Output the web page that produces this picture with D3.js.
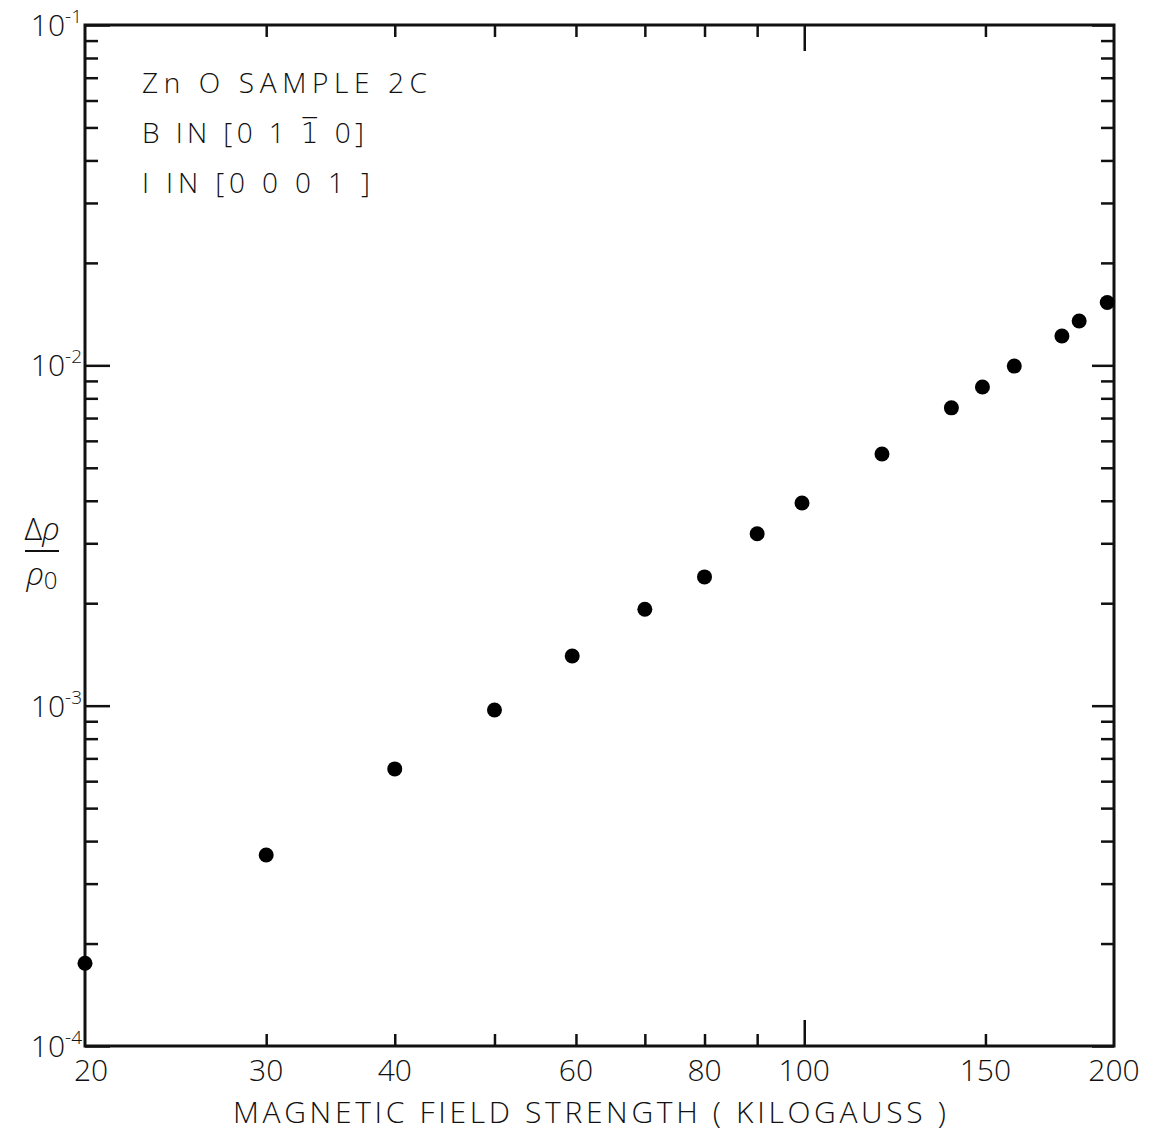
<!DOCTYPE html>
<html>
<head>
<meta charset="utf-8">
<script src="https://cdn.jsdelivr.net/npm/d3@7"></script>
<style>
  html, body { margin: 0; padding: 0; background: #fff; }
  svg text { font-family: "Open Sans", "DejaVu Sans", sans-serif; font-weight: 300; fill: #111; }
</style>
</head>
<body>
<div id="chart"></div>
<script>
// field strength (kilogauss) and magnetoresistance
const fieldKG = [20, 30, 40, 50, 59.5, 70, 80, 90, 99.5, 119, 139, 149, 160, 178, 185, 197];
const deltaRho = [1.75e-4, 3.64e-4, 6.52e-4, 9.71e-4, 1.40e-3, 1.92e-3, 2.39e-3, 3.20e-3,
                  3.94e-3, 5.49e-3, 7.50e-3, 8.64e-3, 9.95e-3, 1.22e-2, 1.35e-2, 1.53e-2];

const xTickLabels = [20, 30, 40, 60, 80, 100, 150, 200];
const xMinorTicks = [30, 40, 50, 60, 70, 80, 90, 150];
const xMajorTicks = [100];
const yDecades = [1e-4, 1e-3, 1e-2, 1e-1];
const yExponents = ["-4", "-3", "-2", "-1"];
const notes = ["Zn O  SAMPLE  2C", "B  IN  [0 1 1\u0305 0]", "I  IN  [0 0 0 1 ]"];

const width = 1150, height = 1132;
const margin = { top: 25, right: 36, bottom: 86, left: 85 };

const svg = d3.select("#chart").append("svg")
    .attr("width", width)
    .attr("height", height);

const x = d3.scaleLog().domain([20, 200]).range([margin.left, width - margin.right]);
const y = d3.scaleLog().domain([1e-4, 1e-1]).range([height - margin.bottom, margin.top]);

const yMinor = [];
yDecades.slice(0, -1).forEach(d => { for (let k = 2; k <= 9; k++) yMinor.push(d * k); });

const x0 = x(20), x1 = x(200), y0 = y(1e-4), y1 = y(1e-1);

// ticks (all pointing inward)
function tickGroup(axis, tx, ty) {
  const g = svg.append("g").attr("transform", `translate(${tx},${ty})`).call(axis);
  g.select(".domain").remove();
  g.selectAll(".tick line").attr("stroke", "#111").attr("stroke-width", 2.5);
  g.selectAll(".tick text").remove();
  return g;
}

tickGroup(d3.axisBottom(x).tickValues(xMinorTicks).tickSize(-12), 0, y0);
tickGroup(d3.axisBottom(x).tickValues(xMajorTicks).tickSize(-26), 0, y0);
tickGroup(d3.axisTop(x).tickValues(xMinorTicks).tickSize(-12), 0, y1);
tickGroup(d3.axisTop(x).tickValues(xMajorTicks).tickSize(-26), 0, y1);

tickGroup(d3.axisLeft(y).tickValues(yMinor).tickSize(-13), x0, 0);
tickGroup(d3.axisLeft(y).tickValues(yDecades).tickSize(-25), x0, 0);
tickGroup(d3.axisRight(y).tickValues(yMinor).tickSize(-13), x1, 0);
tickGroup(d3.axisRight(y).tickValues(yDecades).tickSize(-22), x1, 0);

// frame
svg.append("rect")
    .attr("x", x0).attr("y", y1)
    .attr("width", x1 - x0).attr("height", y0 - y1)
    .attr("fill", "none")
    .attr("stroke", "#111")
    .attr("stroke-width", 3);

// x tick labels
svg.append("g").selectAll("text")
    .data(xTickLabels)
    .join("text")
    .attr("x", d => x(d) + (d === 20 ? 6 : 0))
    .attr("y", y0 + 35)
    .attr("text-anchor", "middle")
    .attr("font-size", 30)
    .text(d => d);

// y decade labels
const yLab = svg.append("g").selectAll("text")
    .data(yDecades)
    .join("text")
    .attr("x", x0 - 3)
    .attr("y", d => y(d) + 11)
    .attr("text-anchor", "end")
    .attr("font-size", 30);
yLab.append("tspan").text("10");
yLab.append("tspan")
    .attr("font-size", 19)
    .attr("dy", -13)
    .text((d, i) => yExponents[i]);

// data points
svg.append("g").selectAll("circle")
    .data(fieldKG)
    .join("circle")
    .attr("cx", d => x(d))
    .attr("cy", (d, i) => y(deltaRho[i]))
    .attr("r", 7.5)
    .attr("fill", "#000");

// annotation
const noteWidths = [285, 222, 228];
svg.append("g").selectAll("text")
    .data(notes)
    .join("text")
    .attr("x", 142)
    .attr("y", (d, i) => 93 + i * 50)
    .attr("font-size", 28)
    .attr("textLength", (d, i) => noteWidths[i])
    .attr("lengthAdjust", "spacing")
    .text(d => d);

// x axis title
svg.append("text")
    .attr("x", 233)
    .attr("y", 1123)
    .attr("font-size", 30)
    .attr("textLength", 713)
    .attr("lengthAdjust", "spacing")
    .text("MAGNETIC  FIELD  STRENGTH ( KILOGAUSS )");

// y axis title: Δρ / ρ0
const yt = svg.append("g").attr("transform", "translate(42,0)");
yt.append("text")
    .attr("y", 540)
    .attr("text-anchor", "middle")
    .attr("font-size", 31)
    .html('Δ<tspan font-style="italic">ρ</tspan>');
yt.append("line")
    .attr("x1", -17).attr("x2", 17)
    .attr("y1", 551).attr("y2", 551)
    .attr("stroke", "#111").attr("stroke-width", 2);
yt.append("text")
    .attr("y", 585)
    .attr("text-anchor", "middle")
    .attr("font-size", 31)
    .html('<tspan font-style="italic">ρ</tspan><tspan font-size="24" dy="4">0</tspan>');
</script>
</body>
</html>
